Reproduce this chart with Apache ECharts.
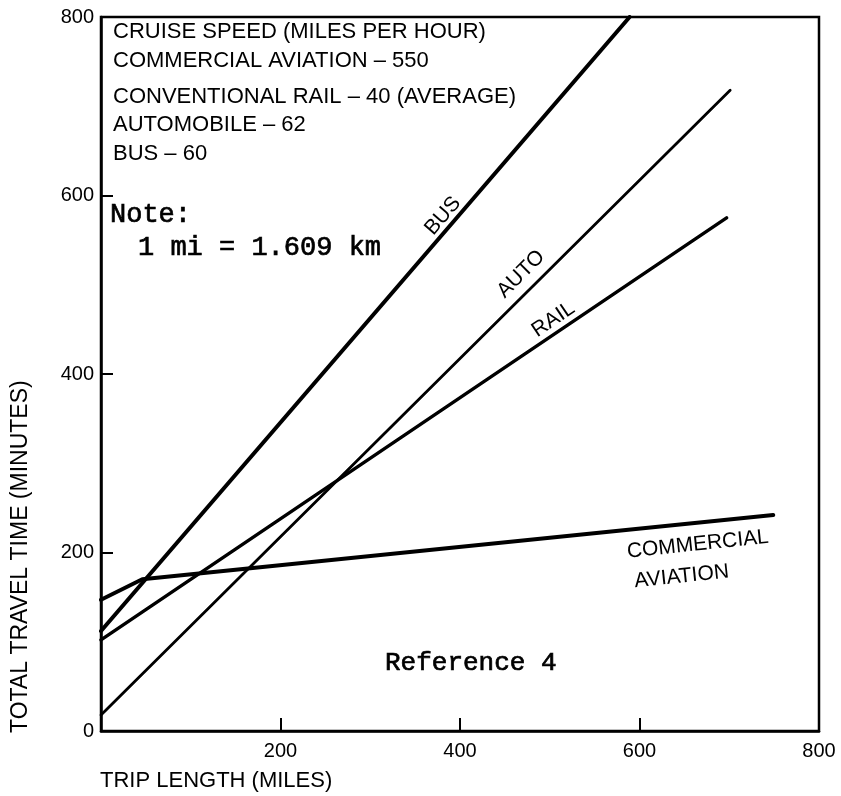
<!DOCTYPE html>
<html>
<head>
<meta charset="utf-8">
<script src="https://cdn.jsdelivr.net/npm/echarts@6.0.0/dist/echarts.min.js"></script>
<style>
  html, body { margin: 0; padding: 0; background: #fff; }
  #main { width: 841px; height: 796px; }
</style>
</head>
<body>
<div id="main"></div>
<script>
// values (miles -> minutes)
const busMiles = [0, 589];
const busMinutes = [112, 800];
const autoMiles = [0, 701];
const autoMinutes = [18, 718];
const railMiles = [0, 697];
const railMinutes = [102, 575];
const airMiles = [0, 46, 749];
const airMinutes = [147, 170, 242];

const xTicks = [0, 200, 400, 600, 800];
const yTicks = [0, 200, 400, 600, 800];

const notes = [
  'CRUISE SPEED (MILES PER HOUR)',
  'COMMERCIAL AVIATION \u2013 550',
  'CONVENTIONAL RAIL \u2013 40 (AVERAGE)',
  'AUTOMOBILE \u2013 62',
  'BUS \u2013 60'
];

const pairs = (xs, ys) => xs.map((x, i) => [x, ys[i]]);
const sans = 'Liberation Sans';
const serif = 'Liberation Mono';

const myChart = echarts.init(document.getElementById('main'));

const lineSeries = (name, xs, ys, w) => ({
  name: name,
  type: 'line',
  data: pairs(xs, ys),
  showSymbol: false,
  silent: true,
  lineStyle: { color: '#000', width: w, cap: 'round' }
});

const option = {
  animation: false,
  grid: {
    left: 101, right: 22, top: 17, bottom: 65,
    show: true, borderColor: '#000', borderWidth: 2.5
  },
  xAxis: {
    type: 'value',
    min: xTicks[0], max: xTicks[xTicks.length - 1], interval: 200,
    splitLine: { show: false },
    axisLine: { lineStyle: { color: '#000', width: 2.5 } },
    axisTick: { inside: true, length: 13, lineStyle: { color: '#000', width: 2 } },
    axisLabel: {
      color: '#000', fontFamily: sans, fontSize: 20, margin: 10,
      formatter: v => (v === 0 ? '' : String(v))
    }
  },
  yAxis: {
    type: 'value',
    min: yTicks[0], max: yTicks[yTicks.length - 1], interval: 200,
    splitLine: { show: false },
    axisLine: { lineStyle: { color: '#000', width: 2.5 } },
    axisTick: { inside: true, length: 12, lineStyle: { color: '#000', width: 2 } },
    axisLabel: { color: '#000', fontFamily: sans, fontSize: 20, margin: 7 }
  },
  series: [
    lineSeries('BUS', busMiles, busMinutes, 4),
    lineSeries('AUTO', autoMiles, autoMinutes, 2.8),
    lineSeries('RAIL', railMiles, railMinutes, 3.4),
    lineSeries('COMMERCIAL AVIATION', airMiles, airMinutes, 4)
  ]
};

option && myChart.setOption(option);

// text placed after layout so line labels sit on the data coordinates
const txt = (text, x, y, opts) => Object.assign({
  type: 'text',
  x: x, y: y,
  style: Object.assign({
    text: text, fill: '#000', font: '20px ' + sans,
    textAlign: 'left', textVerticalAlign: 'middle'
  }, (opts && opts.style) || {})
}, (opts && opts.el) || {});

// typewriter note, thickened a little with a thin stroke
const typed = size => ({ font: size + 'px ' + serif, stroke: '#000', lineWidth: 0.7 });

const graphics = [];
const noteY = [32, 61, 97, 125, 154];
notes.forEach((t, i) => graphics.push(txt(t, 113, noteY[i], { style: { font: '22px ' + sans } })));
graphics.push(txt('Note:', 110, 215, { style: typed(27) }));
graphics.push(txt('1 mi = 1.609 km', 138, 248, { style: typed(27) }));
graphics.push(txt('Reference 4', 385, 663, { style: typed(26) }));

// axis titles
graphics.push(txt('TRIP LENGTH (MILES)', 100, 781, { style: { font: '22px ' + sans } }));
graphics.push(txt('TOTAL TRAVEL TIME (MINUTES)', 21, 733, {
  style: { font: '23px ' + sans },
  el: { rotation: Math.PI / 2 }
}));

// labels riding on the lines: [text, miles, minutes, angle deg]
const lineLabels = [
  ['BUS', 381, 577, 49],
  ['AUTO', 468, 512, 45],
  ['RAIL', 504, 461, 34],
  ['COMMERCIAL', 665, 209, 6],
  ['AVIATION', 647, 173, 6]
];
lineLabels.forEach(l => {
  const p = myChart.convertToPixel({ gridIndex: 0 }, [l[1], l[2]]);
  graphics.push(txt(l[0], p[0], p[1], {
    style: { textAlign: 'center', font: '21px ' + sans },
    el: { rotation: l[3] * Math.PI / 180 }
  }));
});

myChart.setOption({ graphic: { elements: graphics } });
</script>
</body>
</html>
